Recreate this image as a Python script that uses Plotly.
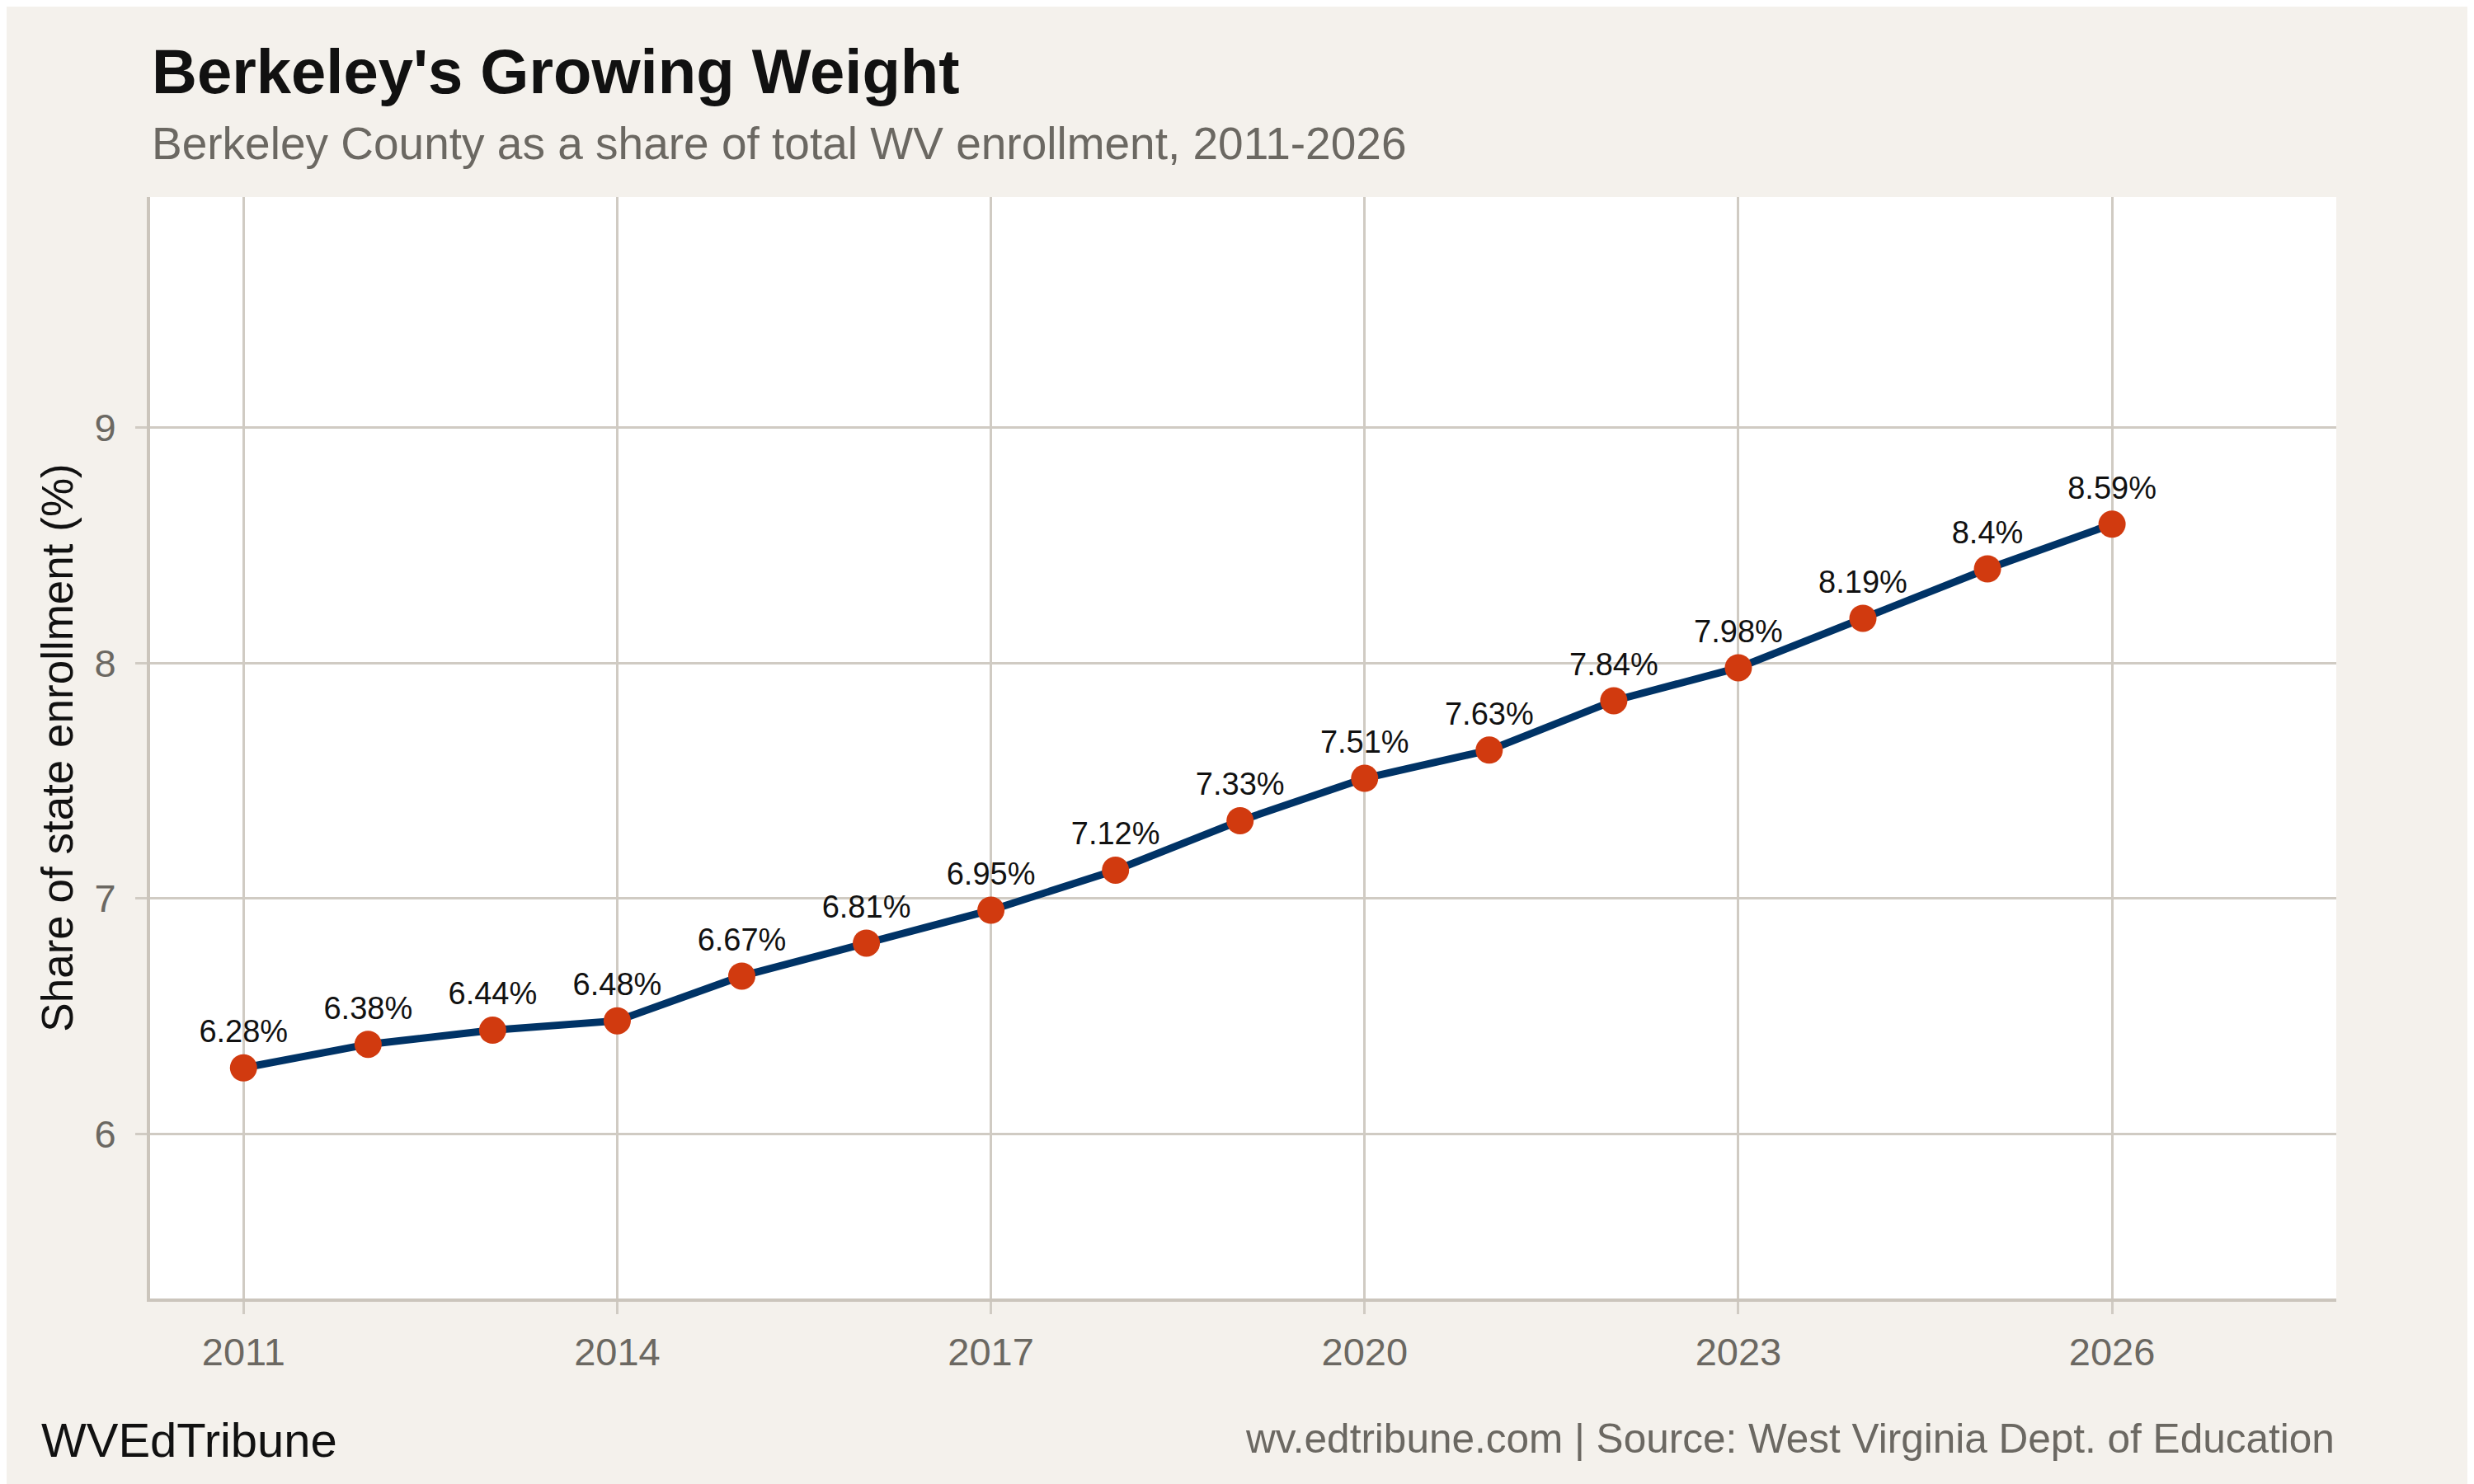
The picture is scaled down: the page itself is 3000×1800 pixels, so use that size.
import plotly.graph_objects as go

years = list(range(2011, 2027))
share = [6.28, 6.38, 6.44, 6.48, 6.67, 6.81, 6.95, 7.12, 7.33, 7.51, 7.63, 7.84, 7.98, 8.19, 8.4, 8.59]
labels = [f"{v:g}%" for v in share]
x_ticks = [2011, 2014, 2017, 2020, 2023, 2026]
y_ticks = [6, 7, 8, 9]

FONT = "Liberation Sans, Arial, Helvetica, sans-serif"
BG = "#f4f1ec"
GRID = "#d0cbc3"
AXIS = "#cbc5bc"
LINE = "#003366"
DOT = "#d13a0f"

fig = go.Figure()
fig.add_trace(go.Scatter(
    x=years, y=share, mode="lines+markers+text",
    line=dict(color=LINE, width=9),
    marker=dict(color=DOT, size=33),
    text=labels, textposition="top center",
    textfont=dict(family=FONT, size=38, color="#111111"),
    cliponaxis=False, showlegend=False, hoverinfo="skip",
))

fig.update_layout(
    width=3000, height=1800,
    paper_bgcolor=BG, plot_bgcolor="white",
    margin=dict(l=174, r=175, t=231, b=233),
    font=dict(family=FONT, color="#6b6862"),
    xaxis=dict(
        range=[2010.25, 2027.8], tickvals=x_ticks, ticktext=[str(t) for t in x_ticks],
        showgrid=True, gridcolor=GRID, gridwidth=2.5,
        showline=True, linecolor=AXIS, linewidth=4,
        ticks="outside", ticklen=15, tickwidth=2.5, tickcolor=GRID,
        tickfont=dict(family=FONT, size=47, color="#6b6862"),
        ticklabelstandoff=6, zeroline=False,
    ),
    yaxis=dict(
        range=[5.3, 9.98], tickvals=y_ticks, ticktext=[str(t) for t in y_ticks],
        showgrid=True, gridcolor=GRID, gridwidth=2.5,
        showline=True, linecolor=AXIS, linewidth=4,
        ticks="outside", ticklen=14, tickwidth=2.5, tickcolor=GRID,
        tickfont=dict(family=FONT, size=47, color="#6b6862"),
        ticklabelstandoff=14, zeroline=False,
        title=dict(text="Share of state enrollment (%)", standoff=10,
                   font=dict(family=FONT, size=53, color="#111111")),
    ),
    annotations=[
        dict(text="<b>Berkeley's Growing Weight</b>", xref="paper", yref="paper",
             x=0, y=1.114, xanchor="left", yanchor="middle", showarrow=False,
             font=dict(family=FONT, size=76, color="#111111")),
        dict(text="Berkeley County as a share of total WV enrollment, 2011-2026", xref="paper", yref="paper",
             x=0, y=1.049, xanchor="left", yanchor="middle", showarrow=False,
             font=dict(family=FONT, size=55, color="#6b6862")),
        dict(text="WVEdTribune", xref="paper", yref="paper",
             x=-0.0505, y=-0.128, xanchor="left", yanchor="middle", showarrow=False,
             font=dict(family=FONT, size=58, color="#111111")),
        dict(text="wv.edtribune.com | Source: West Virginia Dept. of Education", xref="paper", yref="paper",
             x=1.0, y=-0.127, xanchor="right", yanchor="middle", showarrow=False,
             font=dict(family=FONT, size=49.5, color="#6b6862")),
    ],
)

fig.write_html("out.html")
